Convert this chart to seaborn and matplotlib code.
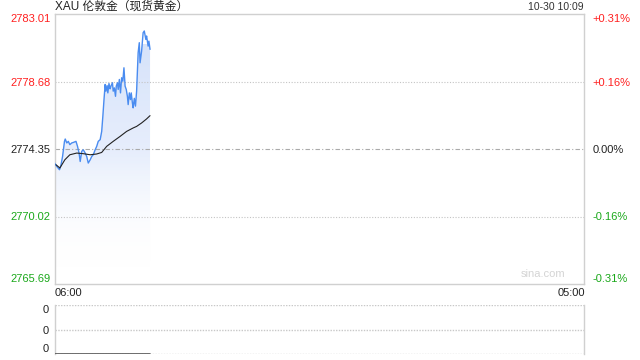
import numpy as np
import pandas as pd
import matplotlib
matplotlib.use("Agg")
import matplotlib.pyplot as plt
import seaborn as sns

# ---------------- data ----------------
# minutes after 06:00
price_minutes = [0, 6, 13, 17, 21, 26, 28, 32, 36, 40,
                 45, 49, 56, 60, 64, 67, 71, 75, 80, 84,
                 88, 93, 97, 101, 106, 110, 114, 119, 123, 126,
                 129, 132, 134, 137, 139, 142, 145, 147, 151, 153,
                 156, 159, 161, 164, 166, 169, 172, 175, 178, 181,
                 184, 187, 190, 192, 195, 198, 200, 203, 205, 208,
                 211, 214, 218, 221, 223, 227, 231, 234, 238, 240,
                 244, 246, 249]
price_values = [2773.45, 2773.23, 2773.02, 2773.34, 2773.87, 2774.84, 2774.99, 2774.74, 2774.84, 2774.63,
                2774.74, 2774.77, 2774.84, 2774.52, 2774.09, 2773.55, 2774.20, 2774.30, 2774.09, 2773.87,
                2773.45, 2773.66, 2773.87, 2773.98, 2774.30, 2774.52, 2774.84, 2774.95, 2775.48, 2776.45,
                2777.52, 2778.49, 2778.06, 2778.42, 2777.95, 2778.55, 2778.21, 2778.38, 2778.60, 2778.06,
                2778.27, 2777.73, 2778.38, 2778.60, 2778.17, 2778.81, 2777.95, 2778.92, 2778.70, 2779.56,
                2778.38, 2778.17, 2777.73, 2777.20, 2777.95, 2777.52, 2777.95, 2777.31, 2776.99, 2777.60,
                2777.10, 2778.06, 2780.53, 2781.17, 2779.88, 2780.63, 2781.81, 2781.92, 2781.38, 2781.60,
                2780.95, 2781.27, 2780.74]

avg_minutes = [4, 14, 27, 40, 58, 75, 93, 110, 123, 136, 153, 171, 188, 205, 214, 227, 240, 249]
avg_values = [2773.34, 2773.13, 2773.66, 2773.98, 2774.09, 2774.05, 2773.98, 2774.03, 2774.13, 2774.52,
              2774.84, 2775.16, 2775.48, 2775.70, 2775.80, 2776.02, 2776.28, 2776.49]

volume_minutes = [0, 249]
volume_values = [0, 0]

price_ticks = [2765.69, 2770.02, 2774.35, 2778.68, 2783.01]
price_labels = ["2765.69", "2770.02", "2774.35", "2778.68", "2783.01"]
pct_labels = ["-0.31%", "-0.16%", "0.00%", "+0.16%", "+0.31%"]
tick_colors = ["#1aa81a", "#1aa81a", "#222222", "#ff2020", "#ff2020"]
volume_tick_labels = ["0", "0", "0"]
title_text = "XAU 伦敦金（现货黄金）"
stamp_text = "10-30 10:09"
x_start_label, x_end_label = "06:00", "05:00"
session_minutes = 23 * 60

price_df = pd.DataFrame({"t": price_minutes, "price": price_values})
avg_df = pd.DataFrame({"t": avg_minutes, "avg": avg_values})
vol_df = pd.DataFrame({"t": volume_minutes, "vol": volume_values})

# ---------------- style ----------------
sns.set_theme(style="white")
plt.rcParams["font.family"] = ["Liberation Sans", "Noto Sans CJK SC", "DejaVu Sans"]

fig = plt.figure(figsize=(6.4, 3.6), dpi=100)
W, H = 640, 360


def px_axes(x0, y0, x1, y1):
    return fig.add_axes([x0 / W, 1 - y1 / H, (x1 - x0) / W, (y1 - y0) / H])


ax = px_axes(54.5, 14, 584, 284)
ymin, ymax = price_ticks[0], price_ticks[-1]
ax.set_xlim(0, session_minutes)
ax.set_ylim(ymin, ymax)

# gradient fill under the price line
grad = np.linspace(0.0, 1.0, 256).reshape(-1, 1)
cmap = matplotlib.colors.LinearSegmentedColormap.from_list(
    "fill", [(1, 1, 1, 0), (0.90, 0.93, 0.99, 0.9), (0.84, 0.89, 0.98, 1.0)])
tmax = price_df["t"].max()
img = ax.imshow(grad, cmap=cmap, aspect="auto", origin="lower",
                extent=[0, tmax, ymin + 1.0, ymax - 2.0], zorder=1)
poly = ax.fill_between(price_df["t"], price_df["price"], ymin, color="none", lw=0)
path = poly.get_paths()[0]
img.set_clip_path(path, transform=ax.transData)

# grid lines (drawn over the fill)
for v in (price_ticks[1], price_ticks[3]):
    ax.axhline(v, color="#c4c4c4", lw=0.8, ls=(0, (1, 1.5)), zorder=2)
ax.axhline(price_ticks[2], color="#aaaaaa", lw=0.8, ls=(0, (4, 2, 1, 2)), zorder=2)

sns.lineplot(data=price_df, x="t", y="price", ax=ax, color="#4a8cf0", lw=1.0, zorder=3)
sns.lineplot(data=avg_df, x="t", y="avg", ax=ax, color="#222222", lw=0.8, zorder=4)

ax.set_xlabel("")
ax.set_ylabel("")
ax.set_yticks(price_ticks)
ax.set_yticklabels(price_labels)
ax.tick_params(axis="y", length=0, pad=3, labelsize=8)
ax.set_xticks([])
for s in ax.spines.values():
    s.set_color("#d0d0d0")
    s.set_linewidth(1.0)

ax2 = ax.twinx()
ax2.set_ylim(ymin, ymax)
ax2.set_yticks(price_ticks)
ax2.set_yticklabels(pct_labels)
ax2.tick_params(axis="y", length=0, pad=6, labelsize=8)
for s in ax2.spines.values():
    s.set_visible(False)

for a in (ax, ax2):
    labs = a.get_yticklabels()
    for lab, c in zip(labs, tick_colors):
        lab.set_color(c)
    labs[0].set_va("bottom")
    labs[-1].set_va("top")

# texts
fig.text(55 / W, 1 - 7 / H, title_text, fontsize=8.5, color="#222222", va="center", ha="left",
         family=["Liberation Sans", "Noto Sans CJK SC"])
fig.text(584 / W, 1 - 7 / H, stamp_text, fontsize=7.5, color="#333333", va="center", ha="right")
fig.text(55 / W, 1 - 293 / H, x_start_label, fontsize=8, color="#222222", va="center", ha="left")
fig.text(585 / W, 1 - 293 / H, x_end_label, fontsize=8, color="#222222", va="center", ha="right")
ax.text(0.965, 0.02, "sina.com", transform=ax.transAxes, fontsize=8, color="#d4d4d4",
        ha="right", va="bottom")

# volume panel
axv = px_axes(54.5, 305, 584, 354)
axv.set_xlim(0, session_minutes)
axv.set_ylim(0, 1)
for v in (0, 0.5, 1):
    axv.axhline(v, color="#c8c8c8", lw=1.0, ls=(0, (1, 1)), zorder=0.5)
sns.lineplot(data=vol_df, x="t", y="vol", ax=axv, color="#555555", lw=1.2, zorder=3)
axv.set_xlabel("")
axv.set_ylabel("")
axv.set_xticks([])
axv.set_yticks([1, 0.5, 0])
axv.set_yticklabels(volume_tick_labels)
axv.tick_params(axis="y", length=0, pad=4, labelsize=8, labelcolor="#222222")
vlabs = axv.get_yticklabels()
vlabs[0].set_va("top")
vlabs[-1].set_va("bottom")
for k, s in axv.spines.items():
    if k in ("top", "bottom"):
        s.set_visible(False)
    else:
        s.set_color("#d0d0d0")
        s.set_linewidth(1.0)

fig.savefig("out.png", dpi=100)
